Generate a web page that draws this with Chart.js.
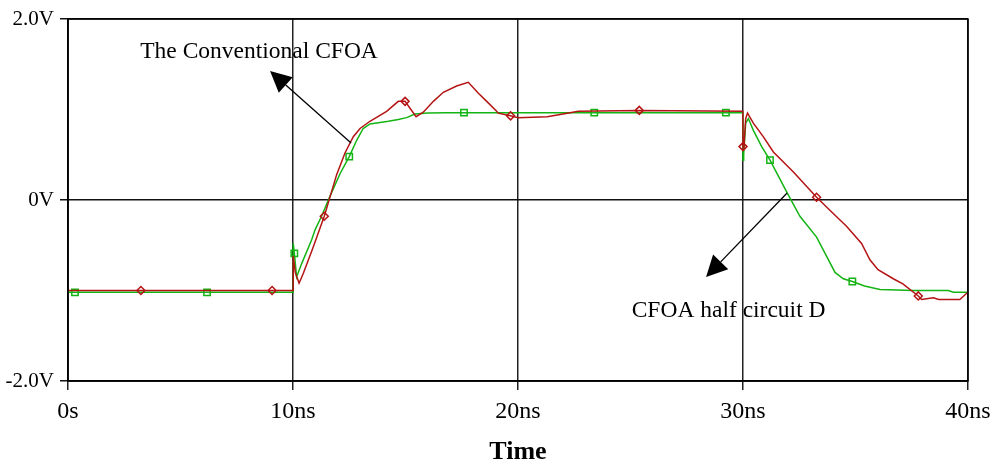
<!DOCTYPE html>
<html>
<head>
<meta charset="utf-8">
<title>CFOA step response</title>
<script src="https://cdn.jsdelivr.net/npm/chart.js@4/dist/chart.umd.min.js"></script>
<style>
  html, body { margin: 0; padding: 0; background: #fff; }
  #wrap { width: 992px; height: 466px; }
</style>
</head>
<body>
<div id="wrap"><canvas id="myChart" width="992" height="466"></canvas></div>
<script>
// time in ns, voltage in V
var redT = [0, 3.24, 9.07, 10.0, 10.01, 10.1, 10.27, 10.46, 10.9, 11.39, 11.94, 12.31, 12.68, 12.98, 13.42, 14.16, 14.68, 14.98,
  15.47, 15.79, 16.24, 16.68, 17.27, 17.79, 18.24, 18.61, 19.05, 19.12, 19.67, 20.0, 21.3, 22.0, 22.68, 25.39, 29.99,
  30.0, 30.03, 30.12, 30.2, 30.46, 30.9, 31.35, 32.24, 33.27, 34.01, 34.6, 35.27, 35.64, 36.0, 36.68, 37.12, 37.79,
  37.94, 38.46, 38.7, 39.64, 39.94, 40];
var redV = [-1.0, -1.0, -1.0, -1.0, -0.62, -0.80, -0.92, -0.81, -0.52, -0.18, 0.28, 0.52, 0.70, 0.79, 0.87, 0.98, 1.09, 1.09,
  0.92, 0.97, 1.09, 1.19, 1.26, 1.30, 1.18, 1.09, 0.98, 0.96, 0.93, 0.91, 0.92, 0.95, 0.98, 0.99, 0.98,
  0.59, 0.55, 0.90, 0.96, 0.85, 0.70, 0.53, 0.31, 0.03, -0.15, -0.29, -0.48, -0.66, -0.77, -0.87, -0.93, -1.06,
  -1.10, -1.08, -1.10, -1.10, -1.03, -1.02];
var redMarks = [3.24, 9.07, 11.39, 14.98, 19.67, 25.39, 30.0, 33.27, 37.79];

var greenT = [0, 0.31, 6.18, 10.0, 10.01, 10.06, 10.16, 10.39, 10.83, 10.98, 11.27, 11.64, 12.09, 12.5, 12.83, 13.12, 13.42,
  14.24, 14.68, 15.05, 15.42, 16.0, 16.83, 17.6, 23.39, 29.24, 29.99,
  30.0, 30.03, 30.12, 30.24, 30.46, 30.83, 31.2, 31.94, 32.53, 33.27, 34.09, 34.46, 34.86, 35.4, 36.09, 37.57, 39.12, 39.35, 40];
var greenV = [-1.02, -1.02, -1.02, -1.02, -0.48, -0.59, -0.85, -0.70, -0.44, -0.33, -0.18, 0.04, 0.29, 0.48, 0.66, 0.79, 0.84,
  0.87, 0.89, 0.91, 0.95, 0.96, 0.965, 0.965, 0.965, 0.965, 0.965,
  0.44, 0.50, 0.85, 0.90, 0.77, 0.59, 0.44, 0.09, -0.18, -0.41, -0.80, -0.87, -0.90, -0.95, -0.99, -1.00, -1.00, -1.02, -1.02];
var greenMarks = [0.31, 6.18, 10.06, 12.5, 17.6, 23.39, 29.24, 31.2, 34.86];

var xTicks = [0, 10, 20, 30, 40];
var yTicks = [-2, 0, 2];

// annotation text [label, x ns, y V] and arrows [from x, from y, tip x, tip y]
var noteLabels = [
  ["The Conventional CFOA", 8.49, 1.635],
  ["CFOA half circuit D", 29.36, -1.227]
];
var noteArrows = [
  [12.58, 0.63, 8.98, 1.425],
  [31.96, 0.077, 28.36, -0.851]
];

function pairs(ts, vs){
  var out = [];
  for (var i = 0; i < ts.length; i++) out.push({x: ts[i], y: vs[i]});
  return out;
}

var serif = '"Liberation Serif", "Times New Roman", serif';

var notesPlugin = {
  id: 'notes',
  afterDraw: function(chart){
    var ctx = chart.ctx, a = chart.chartArea;
    var xs = chart.scales.x, ys = chart.scales.y;
    ctx.save();
    ctx.strokeStyle = '#000';
    ctx.fillStyle = '#000';
    ctx.lineWidth = 1.5;
    ctx.strokeRect(a.left, a.top, a.right - a.left, a.bottom - a.top);

    noteArrows.forEach(function(ar){
      var x1 = xs.getPixelForValue(ar[0]), y1 = ys.getPixelForValue(ar[1]);
      var x2 = xs.getPixelForValue(ar[2]), y2 = ys.getPixelForValue(ar[3]);
      var ang = Math.atan2(y2 - y1, x2 - x1);
      var len = 21, half = 10.5;
      var bx = x2 - len * Math.cos(ang), by = y2 - len * Math.sin(ang);
      ctx.lineWidth = 1.3;
      ctx.beginPath(); ctx.moveTo(x1, y1); ctx.lineTo(bx, by); ctx.stroke();
      ctx.beginPath();
      ctx.moveTo(x2, y2);
      ctx.lineTo(bx + half * Math.sin(ang), by - half * Math.cos(ang));
      ctx.lineTo(bx - half * Math.sin(ang), by + half * Math.cos(ang));
      ctx.closePath();
      ctx.fill();
    });

    ctx.font = '23.5px ' + serif;
    ctx.textAlign = 'center';
    ctx.textBaseline = 'middle';
    noteLabels.forEach(function(n){
      ctx.fillText(n[0], xs.getPixelForValue(n[1]), ys.getPixelForValue(n[2]));
    });
    ctx.restore();
  }
};

new Chart("myChart", {
  type: "line",
  data: {
    datasets: [{
      label: "The Conventional CFOA",
      data: pairs(redT, redV),
      borderColor: "#b41414",
      backgroundColor: "rgba(0,0,0,0)",
      borderWidth: 1.5,
      tension: 0,
      pointStyle: "rectRot",
      pointBorderWidth: 1.5,
      pointRadius: function(c){ return redMarks.indexOf(c.raw.x) >= 0 ? 4 : 0; }
    }, {
      label: "CFOA half circuit D",
      data: pairs(greenT, greenV),
      borderColor: "#14b414",
      backgroundColor: "rgba(0,0,0,0)",
      borderWidth: 1.5,
      tension: 0,
      pointStyle: "rect",
      pointBorderWidth: 1.5,
      pointRadius: function(c){ return greenMarks.indexOf(c.raw.x) >= 0 ? 4.5 : 0; }
    }]
  },
  options: {
    responsive: false,
    animation: false,
    layout: { padding: { top: 19, right: 24, left: 0, bottom: 0 } },
    plugins: {
      legend: { display: false },
      tooltip: { enabled: false }
    },
    scales: {
      x: {
        type: "linear",
        min: 0, max: 40,
        afterFit: function(s){ s.height = 85; s.paddingLeft = 0; s.paddingRight = 0; },
        afterBuildTicks: function(s){ s.ticks = xTicks.map(function(v){ return {value: v}; }); },
        grid: { color: "#222", lineWidth: 1.5, tickLength: 9 },
        border: { color: "#000", width: 1.5 },
        ticks: {
          maxRotation: 0,
          padding: 7,
          color: "#000",
          font: { family: serif, size: 24 },
          callback: function(v){ return v === 0 ? "0s" : v + "ns"; }
        },
        title: {
          display: true,
          text: "Time",
          color: "#000",
          padding: { top: 0, bottom: -2 },
          font: { family: serif, size: 26, weight: "bold" }
        }
      },
      y: {
        min: -2, max: 2,
        afterFit: function(s){ s.width = 68; s.paddingTop = 0; s.paddingBottom = 0; },
        afterBuildTicks: function(s){ s.ticks = yTicks.map(function(v){ return {value: v}; }); },
        grid: { color: "#111", lineWidth: 1.5, tickLength: 8 },
        border: { color: "#000", width: 1.5 },
        ticks: {
          padding: 6,
          color: "#000",
          font: { family: serif, size: 21 },
          callback: function(v){ return v === 0 ? "0V" : v.toFixed(1) + "V"; }
        }
      }
    }
  },
  plugins: [notesPlugin]
});
</script>
</body>
</html>
